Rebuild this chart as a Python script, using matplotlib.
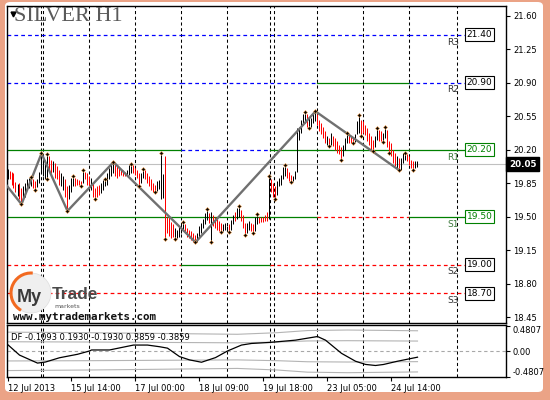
import numpy as np
import matplotlib
matplotlib.use('Agg')
import matplotlib.pyplot as plt
import matplotlib.transforms as mtransforms
from matplotlib.patches import Circle, Arc, FancyBboxPatch

# H1 bars, bar 0 = 12 Jul 2013
highs = [20.00, 19.98, 19.97, 19.96, 19.86, 19.84, 19.85, 19.80, 19.82, 19.85,
         19.89, 19.90, 19.91, 19.89, 19.87, 19.89, 19.97, 20.16, 20.15, 20.09,
         20.15, 20.13, 20.09, 20.08, 20.06, 20.03, 19.99, 19.96, 19.92, 19.89,
         19.82, 19.83, 19.90, 19.92, 19.90, 19.89, 19.88, 19.87, 19.99, 19.97,
         19.96, 19.92, 19.90, 19.85, 19.80, 19.82, 19.83, 19.85, 19.88, 19.89,
         19.96, 20.01, 20.06, 20.07, 20.06, 20.03, 20.01, 19.99, 19.99, 19.97,
         19.99, 20.04, 20.05, 20.04, 20.01, 19.99, 19.96, 19.96, 20.00, 19.99,
         19.96, 19.92, 19.89, 19.85, 19.83, 19.87, 19.88, 20.16, 19.95, 20.13,
         19.50, 19.50, 19.44, 19.42, 19.38, 19.36, 19.40, 19.43, 19.44, 19.42,
         19.38, 19.36, 19.35, 19.33, 19.31, 19.33, 19.40, 19.43, 19.48, 19.54,
         19.58, 19.54, 19.55, 19.52, 19.50, 19.48, 19.45, 19.43, 19.42, 19.43,
         19.40, 19.42, 19.47, 19.52, 19.55, 19.59, 19.61, 19.57, 19.52, 19.43,
         19.43, 19.45, 19.43, 19.42, 19.50, 19.53, 19.50, 19.50, 19.50, 19.52,
         19.55, 19.93, 19.89, 19.85, 19.82, 19.87, 19.90, 19.94, 20.02, 20.04,
         20.01, 19.97, 19.94, 19.92, 19.98, 20.43, 20.44, 20.51, 20.57, 20.59,
         20.57, 20.53, 20.53, 20.58, 20.60, 20.57, 20.51, 20.48, 20.44, 20.39,
         20.34, 20.32, 20.37, 20.34, 20.32, 20.29, 20.25, 20.23, 20.25, 20.32,
         20.37, 20.36, 20.34, 20.32, 20.36, 20.50, 20.56, 20.51, 20.50, 20.46,
         20.43, 20.37, 20.34, 20.30, 20.34, 20.43, 20.41, 20.39, 20.37, 20.44,
         20.41, 20.29, 20.27, 20.20, 20.16, 20.13, 20.11, 20.11, 20.16, 20.17,
         20.15, 20.13, 20.09, 20.08, 20.08, 20.08]
lows = [19.89, 19.89, 19.83, 19.80, 19.76, 19.72, 19.68, 19.63, 19.68, 19.71,
        19.78, 19.80, 19.82, 19.80, 19.78, 19.81, 19.85, 19.96, 19.92, 19.89,
        19.89, 19.99, 19.96, 19.97, 19.90, 19.89, 19.83, 19.82, 19.78, 19.71,
        19.56, 19.68, 19.76, 19.82, 19.82, 19.83, 19.83, 19.825, 19.85, 19.89,
        19.83, 19.82, 19.78, 19.71, 19.68, 19.71, 19.73, 19.75, 19.78, 19.82,
        19.83, 19.89, 19.92, 19.96, 19.92, 19.90, 19.92, 19.94, 19.92, 19.92,
        19.92, 19.94, 19.96, 19.96, 19.94, 19.90, 19.82, 19.85, 19.90, 19.89,
        19.85, 19.82, 19.78, 19.76, 19.756, 19.77, 19.79, 19.68, 19.70, 19.265,
        19.33, 19.30, 19.28, 19.29, 19.265, 19.28, 19.29, 19.33, 19.35, 19.33,
        19.29, 19.28, 19.26, 19.24, 19.233, 19.24, 19.29, 19.33, 19.38, 19.42,
        19.47, 19.43, 19.233, 19.40, 19.38, 19.36, 19.35, 19.34, 19.35, 19.36,
        19.35, 19.34, 19.36, 19.42, 19.45, 19.48, 19.50, 19.45, 19.38, 19.31,
        19.33, 19.36, 19.35, 19.33, 19.35, 19.42, 19.43, 19.44, 19.44, 19.45,
        19.46, 19.48, 19.76, 19.71, 19.68, 19.73, 19.82, 19.83, 19.89, 19.92,
        19.90, 19.87, 19.864, 19.87, 19.89, 19.97, 20.30, 20.37, 20.46, 20.48,
        20.44, 20.425, 20.44, 20.48, 20.50, 20.46, 20.39, 20.36, 20.32, 20.27,
        20.25, 20.233, 20.25, 20.24, 20.20, 20.16, 20.15, 20.094, 20.13, 20.20,
        20.27, 20.27, 20.27, 20.265, 20.28, 20.36, 20.37, 20.345, 20.37, 20.35,
        20.29, 20.25, 20.20, 20.19, 20.23, 20.30, 20.29, 20.29, 20.285, 20.32,
        20.23, 20.164, 20.13, 20.06, 20.03, 20.01, 19.983, 19.99, 20.06, 20.09,
        20.08, 20.04, 20.01, 19.983, 20.01, 20.02]
# u = up bar (black), d = down bar (red)
dirs = ("uddddudduu" "uuudduuuuu" "udduddduud" "duuuddddud" "ddudddduuu"
        "uuuudddddd" "uuudddduud" "ddddduuuud" "dddduuuuud" "ddddduuuuu"
        "ududdddduu" "uduuduuddd" "uudduudddd" "duddduuuuu" "ddduuuuuuu"
        "duuuuddddd" "ududdddduu" "uddduuuddd" "dddduudduu" "ddddduduuu"
        "dddduu")

# zigzag swing points (bar index, price)
zz_i = [-4, 7, 17, 30, 53, 94, 154, 196]
zz_p = [19.92, 19.63, 20.16, 19.56, 20.07, 19.233, 20.60, 19.983]

# fractal markers
frac_hi = [12, 17, 20, 33, 38, 49, 53, 62, 68, 77, 88, 100, 116, 125, 131,
           139, 149, 154, 170, 176, 185, 189, 199]
frac_lo = [7, 14, 20, 30, 37, 44, 66, 74, 79, 84, 94, 102, 107, 111, 119, 123,
           134, 142, 151, 161, 167, 173, 177, 183, 188, 191, 196, 203]

# pivot levels, state per period: n = not reached (above), h = hit, s = not reached (below)
levels = [21.40, 20.90, 20.20, 19.50, 19.00, 18.70]
level_names = ['R3', 'R2', 'R1', 'S1', 'S2', 'S3']
level_state = ['nnnnn', 'nnnhn', 'hnhhh', 'hhhsh', 'shsss', 'sssss']
period_edges = [-0.25, 87.0, 131.5, 155.0, 201.0, 229.5]

last_price = 20.05
price_ticks = [21.60, 21.25, 20.90, 20.55, 20.20, 19.85, 19.50, 19.15, 18.80, 18.45]
day_lines = [17, 18, 41, 64, 87, 110, 131.5, 133.5, 155, 178, 201, 225]
date_pos = [0, 32, 64, 96, 128, 160, 192]
date_labels = ['12 Jul 2013', '15 Jul 14:00', '17 Jul 00:00', '18 Jul 09:00',
               '19 Jul 18:00', '23 Jul 05:00', '24 Jul 14:00']

# DF oscillator
df_i = [0, 6, 15, 19, 26, 35, 41, 42, 51, 63, 70, 76, 80, 86, 91, 97, 104, 110,
        117, 122, 131, 144, 155, 159, 167, 174, 179, 184, 188, 195, 205]
df_v = [0.13, -0.07, -0.22, -0.20, -0.12, -0.055, 0.007, 0.026, 0.026, 0.118,
        0.118, 0.087, 0.06, -0.098, -0.16, -0.204, -0.117, 0.007, 0.118, 0.148,
        0.167, 0.21, 0.278, 0.21, -0.037, -0.185, -0.245, -0.265, -0.246, -0.185,
        -0.1093]
band_i = [0, 40, 90, 115, 135, 150, 170, 205]
band_out = [0.36, 0.35, 0.33, 0.32, 0.35, 0.39, 0.40, 0.3859]
band_in = [0.18, 0.175, 0.165, 0.16, 0.175, 0.195, 0.20, 0.1930]
df_readout = [-0.1093, 0.1930, -0.1930, 0.3859, -0.3859]

plt.rcParams['font.family'] = 'DejaVu Sans'
W, H = 550, 400
fig = plt.figure(figsize=(5.5, 4), dpi=100, facecolor='#eba386')
bg = FancyBboxPatch((5 / W, 8 / H), 538 / W, 390 / H,
                    boxstyle='round,pad=0,rounding_size=0.01',
                    transform=fig.transFigure, fc='white', ec='none', zorder=-1)
fig.add_artist(bg)

ax = fig.add_axes([7 / W, 1 - 323 / H, 499 / W, 317 / H])
ax2 = fig.add_axes([7 / W, 1 - 377 / H, 499 / W, 52 / H])
# 2 px per bar, bars on pixel centres
xlim = (-0.25, 249.25)

# main price panel
idx = np.arange(len(highs))
cols = ['#000000' if c == 'u' else '#ff0000' for c in dirs]
ax.vlines(idx, lows, highs, colors=cols, lw=0.72, zorder=2)

for d in day_lines:
    ax.axvline(d, color='black', ls=(0, (3, 2.5)), lw=0.75, zorder=1)
    ax2.axvline(d, color='black', ls=(0, (3, 2.5)), lw=0.75, zorder=1)

ax.axhline(last_price, color='#c0c0c0', lw=0.8, zorder=1)

for lev, name, st in zip(levels, level_names, level_state):
    for k, s in enumerate(st):
        x0, x1 = period_edges[k], period_edges[k + 1]
        if s == 'h':
            ax.plot([x0, x1], [lev, lev], color='#008000', lw=0.9, zorder=1.5)
        elif s == 'n':
            ax.plot([x0, x1], [lev, lev], color='#0000ff', lw=0.9,
                    ls=(0, (3, 2.5)), zorder=1.5)
        else:
            ax.plot([x0, x1], [lev, lev], color='#ff0000', lw=0.9,
                    ls=(0, (3, 2.5)), zorder=1.5)
    c = '#008000' if st[-1] == 'h' else 'black'
    tc = '#3c7a3c' if st[-1] == 'h' else '#333333'
    ax.text(219.8, lev - 0.03, name, fontsize=6.5, color=tc, ha='left', va='top')
    ax.text(229.6, lev, f'{lev:.2f}', fontsize=6.5, color=c, ha='left', va='center',
            bbox=dict(boxstyle='square,pad=0.2', fc='white', ec=c, lw=0.8), zorder=5)

ax.plot(zz_i, zz_p, color='#707070', lw=1.7, zorder=3)
ax.plot(frac_hi, [highs[i] for i in frac_hi], 'D', ms=2.0, mfc='black',
        mec='#f0a050', mew=0.4, zorder=4)
ax.plot(frac_lo, [lows[i] for i in frac_lo], 'D', ms=2.0, mfc='black',
        mec='#f0a050', mew=0.4, zorder=4)

ax.set_xlim(*xlim)
ax.set_ylim(18.39, 21.70)
ax.set_xticks([])
ax.yaxis.tick_right()
ax.set_yticks(price_ticks)
ax.set_yticklabels([f'{t:.2f}' for t in price_ticks])
ax.tick_params(axis='y', direction='out', length=3, width=0.8, labelsize=6, pad=2)
for sp in ax.spines.values():
    sp.set_linewidth(1)

trans = mtransforms.blended_transform_factory(ax.transAxes, ax.transData)
ax.text(1.006, last_price, f'{last_price:.2f}', transform=trans, color='white',
        fontsize=6.3, fontweight='bold', ha='left', va='center', clip_on=False,
        bbox=dict(boxstyle='square,pad=0.3', fc='black', ec='black'))

# oscillator panel
ax2.axhline(0, color='#a8a8a8', lw=0.8, ls=(0, (3, 2.5)))
for b in (band_out, band_in):
    ax2.plot(band_i, b, color='#b4b4b4', lw=0.8)
    ax2.plot(band_i, [-v for v in b], color='#b4b4b4', lw=0.8)
ax2.plot(df_i, df_v, color='black', lw=0.9)
ax2.text(0.008, 0.76, 'DF ' + ' '.join(f'{v:.4f}' for v in df_readout),
         transform=ax2.transAxes, fontsize=6, ha='left', va='center')
ax2.set_xlim(*xlim)
ax2.set_ylim(-0.47, 0.494)
ax2.yaxis.tick_right()
ax2.set_yticks([0.4807, 0, -0.4807])
ax2.set_yticklabels(['0.4807', '0.00', '-0.4807'])
yl = ax2.get_yticklabels()
yl[0].set_va('top')
yl[2].set_va('bottom')
ax2.tick_params(axis='y', direction='out', length=3, width=0.8, labelsize=6, pad=2)
ax2.set_xticks(date_pos)
ax2.set_xticklabels(date_labels, ha='left')
ax2.tick_params(axis='x', direction='out', length=3, width=0.8, labelsize=6, pad=2)
for sp in ax2.spines.values():
    sp.set_linewidth(1)

# overlay: title and logo in pixel coordinates
ov = fig.add_axes([0, 0, 1, 1], zorder=10)
ov.set_xlim(0, W)
ov.set_ylim(H, 0)
ov.axis('off')
ov.patch.set_alpha(0)
ov.plot(13, 14, marker='v', color='black', ms=3.5)
ov.text(14, 7, 'SILVER H1', fontsize=16, family='Liberation Serif',
        color='#5a5a5a', va='top', ha='left')

ov.add_patch(Circle((31, 293), 20, fc='#efefef', ec='#dddddd', lw=0.5))
ov.add_patch(Arc((31, 293), 40, 40, theta1=120, theta2=275, color='#f26a21', lw=2.2))
ov.text(17, 302, 'My', fontsize=13, fontweight='bold', family='Liberation Sans',
        color='#3a3a3a', va='baseline')
ov.text(52, 299, 'Trade', fontsize=12.5, fontweight='bold', family='Liberation Sans',
        color='#4a4a4a', va='baseline')
ov.text(54, 308, 'markets', fontsize=4.5, color='#555555', va='baseline')
ov.text(13, 320, 'www.mytrademarkets.com', family='DejaVu Sans Mono',
        fontweight='bold', fontsize=7.8, color='#111111', va='baseline')

fig.savefig('out.png', dpi=100)
